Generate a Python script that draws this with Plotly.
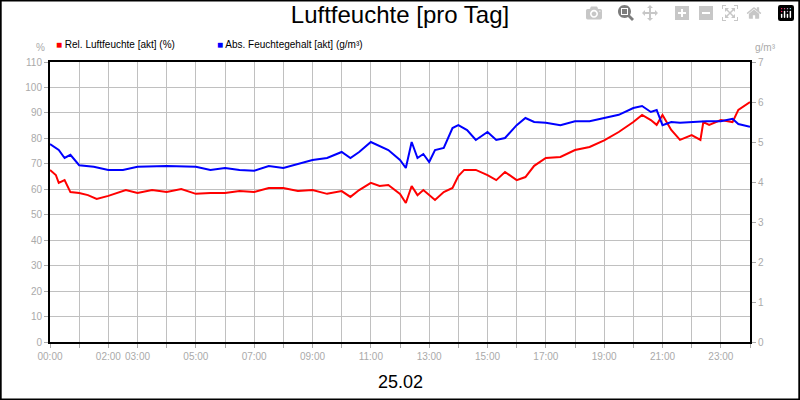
import plotly.graph_objects as go

# hours of day, relative humidity (%)
rel_h = [0, 0.2, 0.3, 0.5, 0.7, 1, 1.3, 1.6, 2, 2.3, 2.6, 3, 3.5, 4, 4.5, 5, 5.5, 6, 6.5, 7, 7.5, 8,
         8.5, 9, 9.5, 10, 10.3, 10.6, 11, 11.3, 11.6, 12, 12.2, 12.4, 12.6, 12.8, 13, 13.2, 13.5, 13.8,
         14, 14.2, 14.6, 15, 15.3, 15.6, 16, 16.3, 16.6, 17, 17.5, 18, 18.5, 19, 19.5, 20, 20.3, 20.6,
         20.8, 21, 21.3, 21.6, 22, 22.3, 22.4, 22.6, 23, 23.4, 23.6, 24]
rel_v = [67.6, 65.6, 62.5, 63.6, 58.9, 58.5, 57.7, 56.2, 57.4, 58.5, 59.7, 58.5, 59.7, 58.9, 60.1, 58.2,
         58.5, 58.5, 59.3, 58.9, 60.5, 60.5, 59.3, 59.7, 58.2, 59.3, 57.0, 59.7, 62.5, 61.3, 61.7, 58.2,
         54.6, 61.3, 57.7, 59.7, 57.7, 55.8, 58.9, 60.5, 65.2, 67.6, 67.6, 65.6, 63.6, 66.8, 63.6, 64.8,
         69.2, 72.3, 72.7, 75.4, 76.6, 79.2, 82.5, 86.4, 89.2, 87.2, 85.3, 89.2, 83.3, 79.4, 81.3, 79.4,
         86.4, 85.3, 87.2, 86.4, 91.2, 94.3]

# absolute humidity (g/m3)
abs_h = [0, 0.3, 0.5, 0.7, 1, 1.5, 2, 2.5, 3, 4, 5, 5.5, 6, 6.5, 7, 7.5, 8, 8.5, 9, 9.5, 10, 10.3,
         10.6, 11, 11.3, 11.6, 12, 12.2, 12.4, 12.6, 12.8, 13, 13.2, 13.5, 13.8, 14, 14.3, 14.6, 15,
         15.3, 15.6, 16, 16.3, 16.6, 17, 17.5, 18, 18.5, 19, 19.5, 20, 20.3, 20.6, 20.8, 21, 21.3,
         21.6, 22, 22.5, 23, 23.4, 23.6, 24]
abs_v = [4.95, 4.8, 4.6, 4.68, 4.42, 4.38, 4.3, 4.3, 4.38, 4.4, 4.38, 4.3, 4.35, 4.3, 4.28, 4.4,
         4.35, 4.45, 4.55, 4.6, 4.75, 4.6, 4.75, 5.0, 4.9, 4.8, 4.55, 4.35, 5.0, 4.6, 4.7, 4.5, 4.8,
         4.85, 5.35, 5.42, 5.3, 5.05, 5.25, 5.05, 5.1, 5.42, 5.6, 5.5, 5.48, 5.42, 5.52, 5.52, 5.6,
         5.68, 5.85, 5.9, 5.75, 5.8, 5.42, 5.5, 5.48, 5.5, 5.52, 5.52, 5.58, 5.45, 5.38]

tick_hours = list(range(25))
tick_text = ["00:00", "", "02:00", "03:00", "", "05:00", "", "07:00", "", "09:00", "", "11:00", "",
             "13:00", "", "15:00", "", "17:00", "", "19:00", "", "21:00", "", "23:00", ""]

grey = "#aaaaaa"
grid = "#c0c0c0"
fnt = "Liberation Sans, Arial, sans-serif"

fig = go.Figure()
fig.add_trace(go.Scatter(x=rel_h, y=rel_v, mode="lines", line=dict(color="#ff0000", width=2),
                         showlegend=False))
fig.add_trace(go.Scatter(x=abs_h, y=abs_v, mode="lines", line=dict(color="#0000ff", width=2),
                         yaxis="y2", showlegend=False))

fig.update_layout(
    width=800, height=400, margin=dict(l=50, r=50, t=62, b=58, autoexpand=False),
    paper_bgcolor="white", plot_bgcolor="white",
    font=dict(family=fnt, size=10, color=grey),
    title=dict(text="Luftfeuchte [pro Tag]", x=0.5, xanchor="center", y=0.985, yanchor="top",
               font=dict(size=24, color="black")),
    xaxis=dict(range=[0, 24], tickvals=tick_hours, ticktext=tick_text, tickangle=0, showgrid=True,
               gridcolor=grid, ticks="outside", ticklen=4, tickcolor=grey, showline=True,
               linecolor="black", linewidth=2, zeroline=False, mirror=True),
    yaxis=dict(range=[0, 110], dtick=10, showgrid=True, gridcolor=grid, ticks="outside",
               ticklen=4, tickcolor=grey, showline=True, linecolor="black", linewidth=2,
               zeroline=False),
    yaxis2=dict(range=[0, 7], dtick=1, overlaying="y", side="right", showgrid=False,
                ticks="outside", ticklen=4, tickcolor=grey, showline=True, linecolor="black",
                linewidth=2, zeroline=False),
)

fig.add_annotation(text="%", xref="paper", yref="paper", x=-0.005, y=1.08, showarrow=False,
                   xanchor="right", font=dict(size=10, color=grey))
fig.add_annotation(text="g/m³", xref="paper", yref="paper", x=1.005, y=1.08, showarrow=False,
                   xanchor="left", font=dict(size=10, color=grey))
fig.add_annotation(text="<span style='color:#ff0000'>■</span> Rel. Luftfeuchte [akt] (%)",
                   xref="paper", yref="paper", x=0.005, y=1.09, showarrow=False, xanchor="left",
                   font=dict(size=10, color="black"))
fig.add_annotation(text="<span style='color:#0000ff'>■</span> Abs. Feuchtegehalt [akt] (g/m³)",
                   xref="paper", yref="paper", x=0.235, y=1.09, showarrow=False, xanchor="left",
                   font=dict(size=10, color="black"))
fig.add_annotation(text="25.02", xref="paper", yref="paper", x=0.5, y=-0.1, showarrow=False,
                   yanchor="top", font=dict(size=18, color="black"))
fig.add_shape(type="rect", xref="paper", yref="paper", x0=-50/700 + 0.001, x1=750/700 - 0.001,
              y0=-58/280 + 0.002, y1=342/280 - 0.002, line=dict(color="black", width=2))

fig.write_html("out.html", post_script="document.body.style.margin='0';")
